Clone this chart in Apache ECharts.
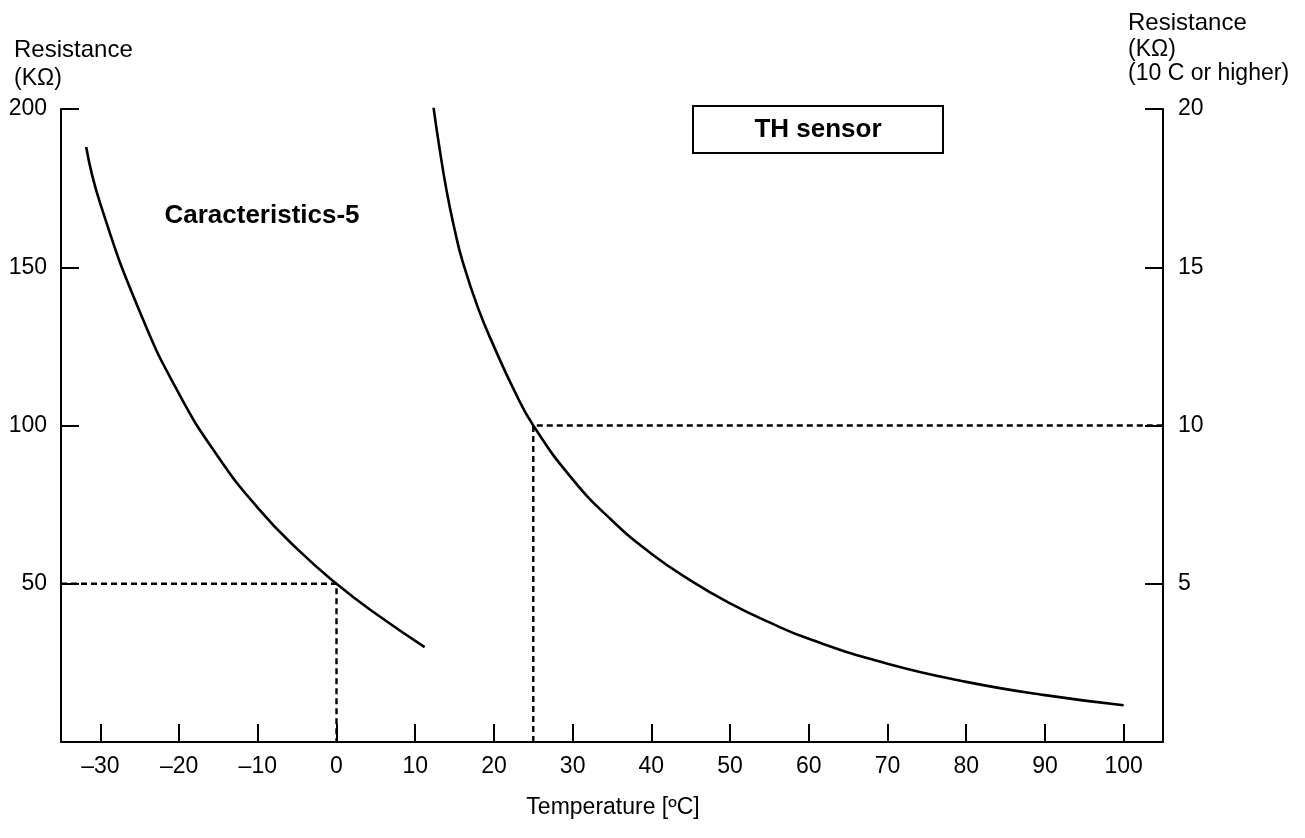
<!DOCTYPE html>
<html>
<head>
<meta charset="utf-8">
<script src="https://cdn.jsdelivr.net/npm/echarts@6.0.0/dist/echarts.min.js"></script>
<style>
  html, body { margin: 0; padding: 0; background: #fff; }
  #chart { width: 1305px; height: 838px; }
</style>
</head>
<body>
<div id="chart"></div>
<script>
// temperature ticks on the bottom axis
var tempTicks = [-30, -20, -10, 0, 10, 20, 30, 40, 50, 60, 70, 80, 90, 100];
var leftTicks = [50, 100, 150, 200];
var rightTicks = [5, 10, 15, 20];

// Caracteristics-5, left scale (KOhm)
var char5Temp = [-31.8, -30, -25, -20, -15, -10, -5, 0, 5, 11.2];
var char5Res = [188, 170, 136, 110, 90, 74, 61, 50, 40.5, 30];

// TH sensor, right scale (KOhm, 10 C or higher)
var thTemp = [12.3, 13, 14, 15, 16, 18, 20, 22.5, 25, 30, 35, 40, 45, 50, 55, 60, 70, 80, 90, 100];
var thRes = [20.1, 18.9, 17.4, 16.2, 15.2, 13.7, 12.5, 11.15, 10.0, 8.3, 7.0, 5.95, 5.1, 4.38, 3.78, 3.26, 2.47, 1.9, 1.48, 1.16];

// dashed guide lines
var guideLeft = [[-35, 50], [0, 50], [0, 0]];
var guideRight = [[25, 0], [25, 10], [105, 10]];

function pairs(xs, ys) {
  return xs.map(function (x, i) { return [x, ys[i]]; });
}

var font = '"Liberation Sans", Arial, Helvetica, sans-serif';
var chart = echarts.init(document.getElementById('chart'));

var axisLine = { show: true, onZero: false, lineStyle: { color: '#000', width: 2 } };
var tick = { show: true, inside: true, length: 18, lineStyle: { color: '#000', width: 2 } };
var label = { color: '#000', fontSize: 23, fontFamily: font };

var option = {
  animation: false,
  grid: { left: 61, right: 142, top: 109, bottom: 96 },
  xAxis: {
    type: 'value',
    min: -35,
    max: 105,
    axisLine: axisLine,
    axisTick: Object.assign({}, tick, { customValues: tempTicks }),
    splitLine: { show: false },
    axisLabel: Object.assign({}, label, {
      customValues: tempTicks,
      margin: 13,
      formatter: function (v) { return String(v).replace('-', '\u2013'); }
    })
  },
  yAxis: [{
    type: 'value',
    position: 'left',
    min: 0,
    max: 200,
    axisLine: axisLine,
    axisTick: Object.assign({}, tick, { customValues: leftTicks }),
    splitLine: { show: false },
    axisLabel: Object.assign({}, label, { customValues: leftTicks, margin: 14 })
  }, {
    type: 'value',
    position: 'right',
    min: 0,
    max: 20,
    axisLine: axisLine,
    axisTick: Object.assign({}, tick, { customValues: rightTicks }),
    splitLine: { show: false },
    axisLabel: Object.assign({}, label, { customValues: rightTicks, margin: 15 })
  }],
  series: [{
    name: 'Caracteristics-5',
    type: 'line',
    yAxisIndex: 0,
    data: pairs(char5Temp, char5Res),
    smooth: true,
    showSymbol: false,
    lineStyle: { color: '#000', width: 2.6 }
  }, {
    name: 'TH sensor',
    type: 'line',
    yAxisIndex: 1,
    data: pairs(thTemp, thRes),
    smooth: true,
    showSymbol: false,
    lineStyle: { color: '#000', width: 2.6 }
  }, {
    type: 'line',
    yAxisIndex: 0,
    data: guideLeft,
    showSymbol: false,
    lineStyle: { color: '#000', width: 2.4, type: [6, 4] }
  }, {
    type: 'line',
    yAxisIndex: 1,
    data: guideRight,
    showSymbol: false,
    lineStyle: { color: '#000', width: 2.4, type: [6, 4] }
  }],
  graphic: [
    { type: 'text', x: 14, y: 50, style: { text: 'Resistance', font: '24px ' + font, fill: '#000', verticalAlign: 'middle' } },
    { type: 'text', x: 14, y: 79, style: { text: '(K\u03A9)', font: '23px ' + font, fill: '#000', verticalAlign: 'middle' } },
    { type: 'text', x: 1128, y: 23, style: { text: 'Resistance', font: '24px ' + font, fill: '#000', verticalAlign: 'middle' } },
    { type: 'text', x: 1128, y: 50, style: { text: '(K\u03A9)', font: '23px ' + font, fill: '#000', verticalAlign: 'middle' } },
    { type: 'text', x: 1128, y: 74, style: { text: '(10 C or higher)', font: '23px ' + font, fill: '#000', verticalAlign: 'middle' } },
    { type: 'text', x: 613, y: 808, style: { text: 'Temperature [\u00BAC]', font: '23px ' + font, fill: '#000', align: 'center', verticalAlign: 'middle' } },
    { type: 'text', x: 262, y: 216, style: { text: 'Caracteristics-5', font: 'bold 26px ' + font, fill: '#000', align: 'center', verticalAlign: 'middle' } },
    { type: 'rect', shape: { x: 693, y: 106, width: 250, height: 47 }, style: { fill: '#fff', stroke: '#000', lineWidth: 2 } },
    { type: 'text', x: 818, y: 130, style: { text: 'TH sensor', font: 'bold 26px ' + font, fill: '#000', align: 'center', verticalAlign: 'middle' } }
  ]
};

chart.setOption(option);
</script>
</body>
</html>
